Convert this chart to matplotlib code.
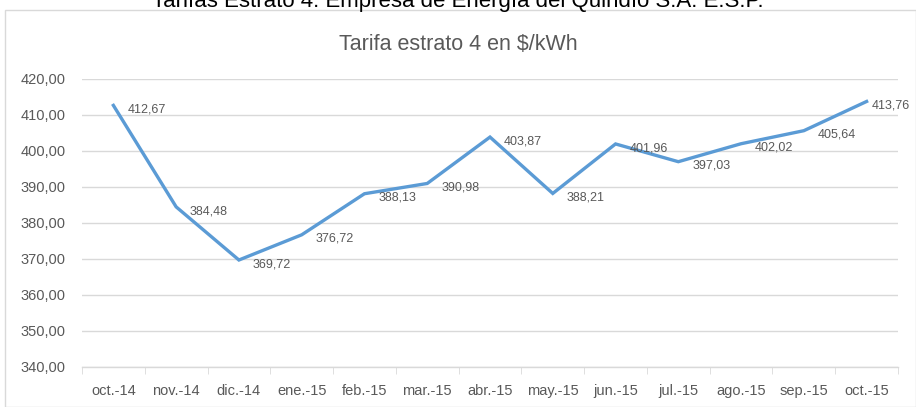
import matplotlib.pyplot as plt
from matplotlib.patches import Rectangle

# Tarifa estrato 4, oct.-14 a oct.-15
meses = ['oct.-14', 'nov.-14', 'dic.-14', 'ene.-15', 'feb.-15', 'mar.-15', 'abr.-15',
         'may.-15', 'jun.-15', 'jul.-15', 'ago.-15', 'sep.-15', 'oct.-15']
tarifa = [412.67, 384.48, 369.72, 376.72, 388.13, 390.98, 403.87,
          388.21, 401.96, 397.03, 402.02, 405.64, 413.76]
yticks = [340, 350, 360, 370, 380, 390, 400, 410, 420]

plt.rcParams['font.family'] = ['Liberation Sans', 'DejaVu Sans']
gris = '#595959'

fig = plt.figure(figsize=(9.16, 4.07), dpi=100)
W, H = 916, 407
ax = fig.add_axes([82 / W, 1 - 367 / H, (898 - 82) / W, (367 - 79) / H])

# chart area border
fig.patches.append(Rectangle((5 / W, 0), 1 - 5 / W, 1 - 10 / H, transform=fig.transFigure,
                             fill=False, edgecolor='#D9D9D9', linewidth=1))

x = range(len(meses))
ax.plot(x, tarifa, color='#5B9BD5', linewidth=2.4, solid_joinstyle='miter')
for i, v in enumerate(tarifa):
    dx = 4 if i == len(tarifa) - 1 else 10
    ax.annotate(f'{v:.2f}'.replace('.', ','), (i, v), xytext=(dx, -3), textcoords='offset points',
                ha='left', va='center', fontsize=9, color=gris)

ax.set_xlim(-0.5, len(meses) - 0.5)
ax.set_ylim(340, 420)
ax.set_yticks(yticks)
ax.set_yticklabels([f'{t:.2f}'.replace('.', ',') for t in yticks], fontsize=10.5, color=gris)
ax.set_xticks(x)
ax.set_xticklabels(meses, fontsize=10.5, color=gris)
ax.set_xticks([i - 0.5 for i in range(len(meses) + 1)], minor=True)
ax.tick_params(axis='x', which='major', length=0, pad=12)
ax.tick_params(axis='x', which='minor', length=5, color='#D9D9D9')
ax.tick_params(axis='y', length=0, pad=12)
ax.grid(axis='y', color='#D9D9D9', linewidth=1)
ax.set_axisbelow(True)
for s in ['top', 'right', 'left']:
    ax.spines[s].set_visible(False)
ax.spines['bottom'].set_color('#D9D9D9')
ax.spines['bottom'].set_linewidth(1)

fig.text(458 / W, 1 - 45 / H, 'Tarifa estrato 4 en $/kWh', ha='center', va='center',
         fontsize=15.5, color=gris)
fig.text(458 / W, 1 - 1 / H, 'Tarifas Estrato 4. Empresa de Energía del Quindío S.A. E.S.P.',
         ha='center', va='center', fontsize=16, color='black')

fig.savefig('out.png', dpi=100)
